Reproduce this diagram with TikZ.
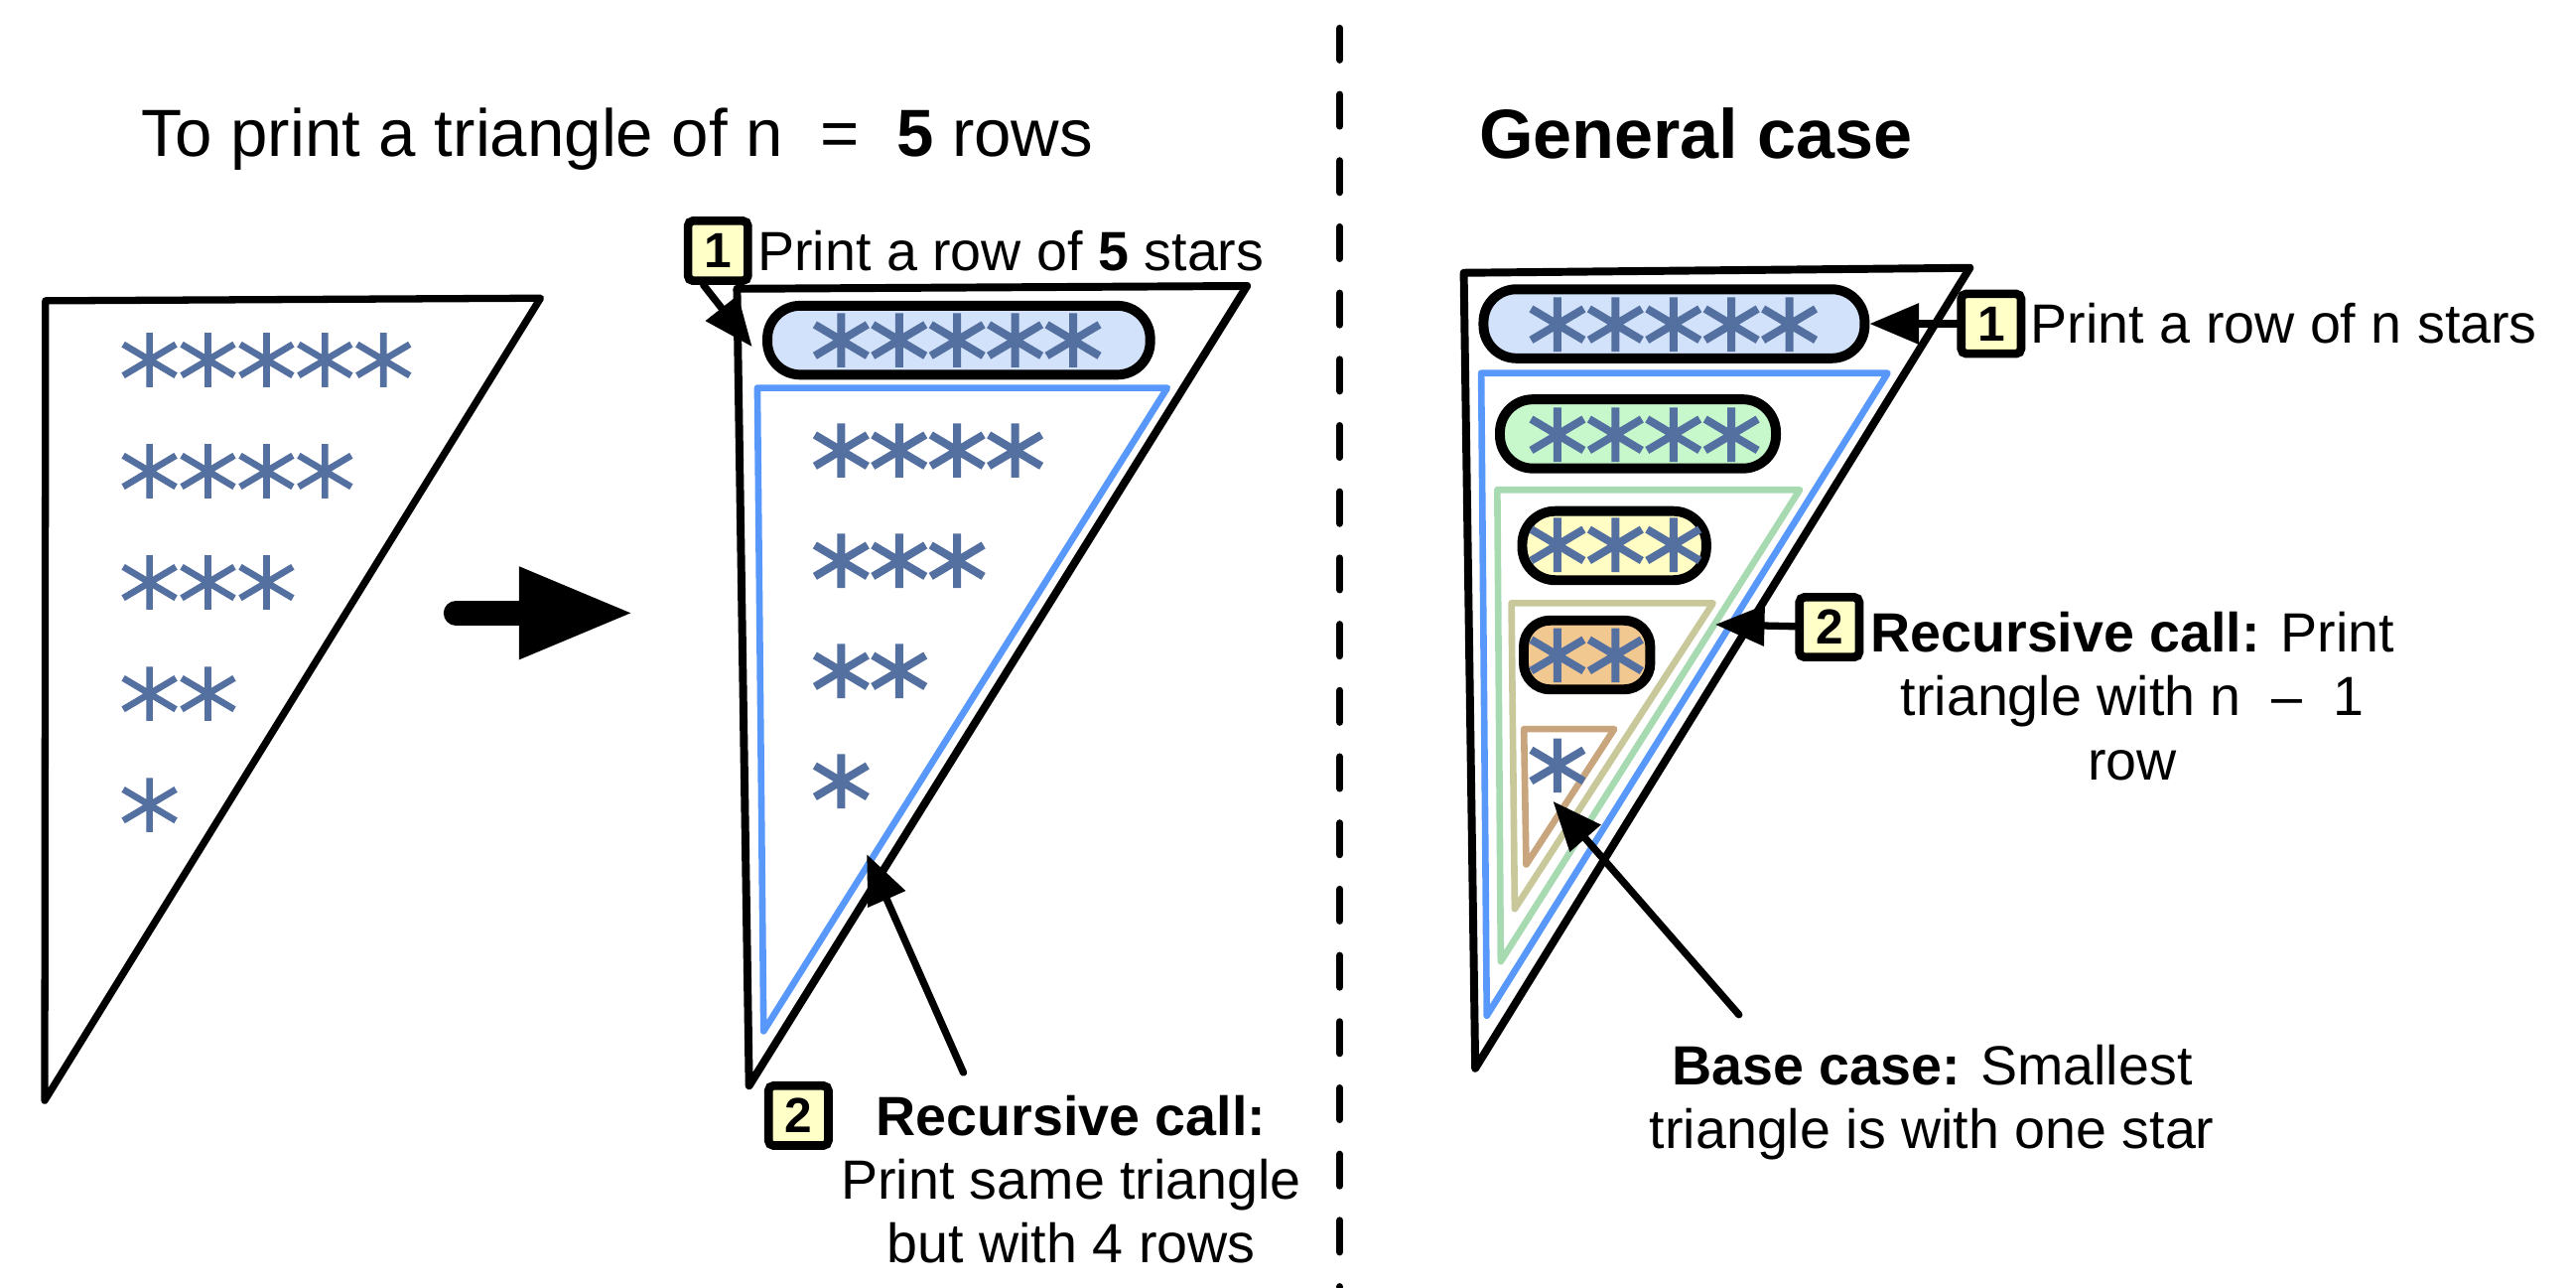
\documentclass[tikz,border=0pt]{standalone}
\usepackage{fontspec}
\setmainfont{Liberation Sans}
\usepackage{tikz}
\usetikzlibrary{arrows.meta,positioning}

\definecolor{starblue}{RGB}{84,112,160}
\definecolor{badgeyellow}{RGB}{255,255,200}
\definecolor{capblue}{RGB}{210,226,250}
\definecolor{capgreen}{RGB}{198,248,204}
\definecolor{capyellow}{RGB}{255,253,196}
\definecolor{caporange}{RGB}{242,200,145}
\definecolor{triblue}{RGB}{88,152,250}
\definecolor{trigreen}{RGB}{168,218,178}
\definecolor{trikhaki}{RGB}{200,200,155}
\definecolor{tritan}{RGB}{200,165,125}

\tikzset{
  %Define standard arrow tip
  >={Triangle[length=15pt,width=12pt]},
  %Define style for numbered badges
  badge/.style={
    rectangle,
    rounded corners=1.5pt,
    draw=black, line width=2.6pt,
    fill=badgeyellow,
    minimum size=18.2pt,
    inner sep=0pt,
    font=\fontsize{15}{15}\selectfont\bfseries},
  %Define style for rows of stars
  capsule/.style={
    rectangle,
    rounded corners=10pt,
    draw=black, line width=3pt,
    minimum height=21pt,
    inner sep=0pt},
  %Define style for triangles
  tri/.style={
    line width=2.4pt,
    line join=round},
  %Define style for labels
  lbl/.style={
    inner sep=0pt,
    align=center,
    font=\fontsize{16.8}{19.4}\selectfont},
  % Define arrow style
  pil/.style={
    ->,
    line width=2.2pt,
    line cap=round},
  %Define one star of a row
  astk/.pic={
    \draw[starblue] (0,-16.5) -- (0,16.5)
      (-16,-9.5) -- (16,9.5)
      (-16,9.5) -- (16,-9.5);}
}

\begin{document}
\begin{tikzpicture}[x=0.5pt,y=-0.5pt]
  \useasboundingbox (0,0) rectangle (1568,783.1);
  % headings
  \node[anchor=base west, inner sep=0pt, font=\fontsize{20.3}{24}\selectfont] (ttlleft) at (86,95) {To print a triangle of n~~=~~\textbf{5} rows};
  \node[anchor=base west, inner sep=0pt, font=\fontsize{21.2}{25}\selectfont\bfseries] (ttlright) at (900,96.3) {General case};
  \draw[line width=2.2pt, line cap=round, dash pattern=on 9.6pt off 10.55pt] (815.5,17.2) -- (815.5,783);

  % n = 5 triangle
  \draw[tri, line width=2.2pt] (27.7,183) -- (329,181.4) -- (27.2,669.6) -- cycle;
  \foreach \n [count=\r] in {5,4,3,2,1}
    \foreach \c in {1,...,\n}
      \pic[line width=2pt] at ({91+35.6*(\c-1)},{219+67.7*(\r-1)}) {astk};
  \coordinate (bigS) at (277.5,373);
  \coordinate (bigE) at (386,373);
  \draw[line width=7.5pt, line cap=round, -{Triangle[length=35pt,width=26pt]}] (bigS) -- (bigE);

  % split into one row and the rest
  \draw[tri] (448.6,175.7) -- (759,174) -- (456,660.6) -- cycle;
  \draw[tri, triblue, line width=2pt] (461,236) -- (710.5,236) -- (464.8,627.4) -- cycle;
  \node[capsule, fill=capblue, minimum width=116.5pt] (mrow) at (583.6,207) {};
  \foreach \n [count=\r] in {5,4,3,2,1}
    \foreach \c in {1,...,\n}
      \pic[line width=2.4pt] at ({512+35.3*(\c-1)},{207+67.1*(\r-1)}) {astk};
  \node[badge] (mb1) at (437,152.6) {1};
  \node[lbl, right=1.5pt of mb1] (mtxt1) {Print a row of \textbf{5} stars};
  \coordinate (mtip1) at (457.8,211);
  \draw[pil] (mb1.247) -- (mtip1);
  \node[badge] (mb2) at (486,678.8) {2};
  \node[lbl, anchor=base] (mtxt2) at (652,768.5) {\textbf{Recursive call:}\\Print same triangle\\but with 4 rows};
  \coordinate (mtail2) at (586.4,652.6);
  \coordinate (mtip2) at (527.6,519.7);
  \draw[pil] (mtail2) -- (mtip2);

  % general case
  \draw[tri] (891,166) -- (1199,163) -- (898,650) -- cycle;
  \draw[tri, triblue, line width=2pt] (901.6,227) -- (1149,227) -- (905,618) -- cycle;
  \draw[tri, trigreen, line width=2pt] (911.4,298) -- (1095.5,298) -- (913.5,585) -- cycle;
  \draw[tri, trikhaki, line width=2pt] (920,367) -- (1042.7,367) -- (922,553) -- cycle;
  \draw[tri, tritan, line width=2pt] (927.6,443.6) -- (982.6,443.6) -- (929,526) -- cycle;
  \node[capsule, fill=capblue, minimum width=116pt] (r1) at (1019,197) {};
  \node[capsule, fill=capgreen, minimum width=84pt] (r2) at (997,264) {};
  \node[capsule, fill=capyellow, minimum width=56pt] (r3) at (982.6,332) {};
  \node[capsule, fill=caporange, minimum width=38.5pt, rounded corners=8pt] (r4) at (966,398.5) {};
  \foreach \n [count=\r] in {5,4,3,2,1}
    \foreach \c in {1,...,\n}
      \pic[line width=2.4pt] at ({948+35.3*(\c-1)},{197.4+67.1*(\r-1)}) {astk};
  \node[badge] (rb1) at (1212,197) {1};
  \node[lbl, right=1.5pt of rb1] (rtxt1) {Print a row of n stars};
  \draw[pil] (rb1) -- (r1);
  \node[badge] (rb2) at (1113.5,381.6) {2};
  \node[lbl, anchor=base] (rtxt2) at (1298,474.4) {\textbf{Recursive call:} Print\\triangle with n~~–~~1\\row};
  \coordinate (rtip2) at (1044,380);
  \draw[pil] (rb2) -- (rtip2);
  \node[lbl, anchor=base] (basetxt) at (1176,699) {\textbf{Base case:} Smallest\\triangle is with one star};
  \coordinate (btail) at (1058.5,617.4);
  \coordinate (btip) at (945.3,487.5);
  \draw[pil] (btail) -- (btip);
\end{tikzpicture}
\end{document}
